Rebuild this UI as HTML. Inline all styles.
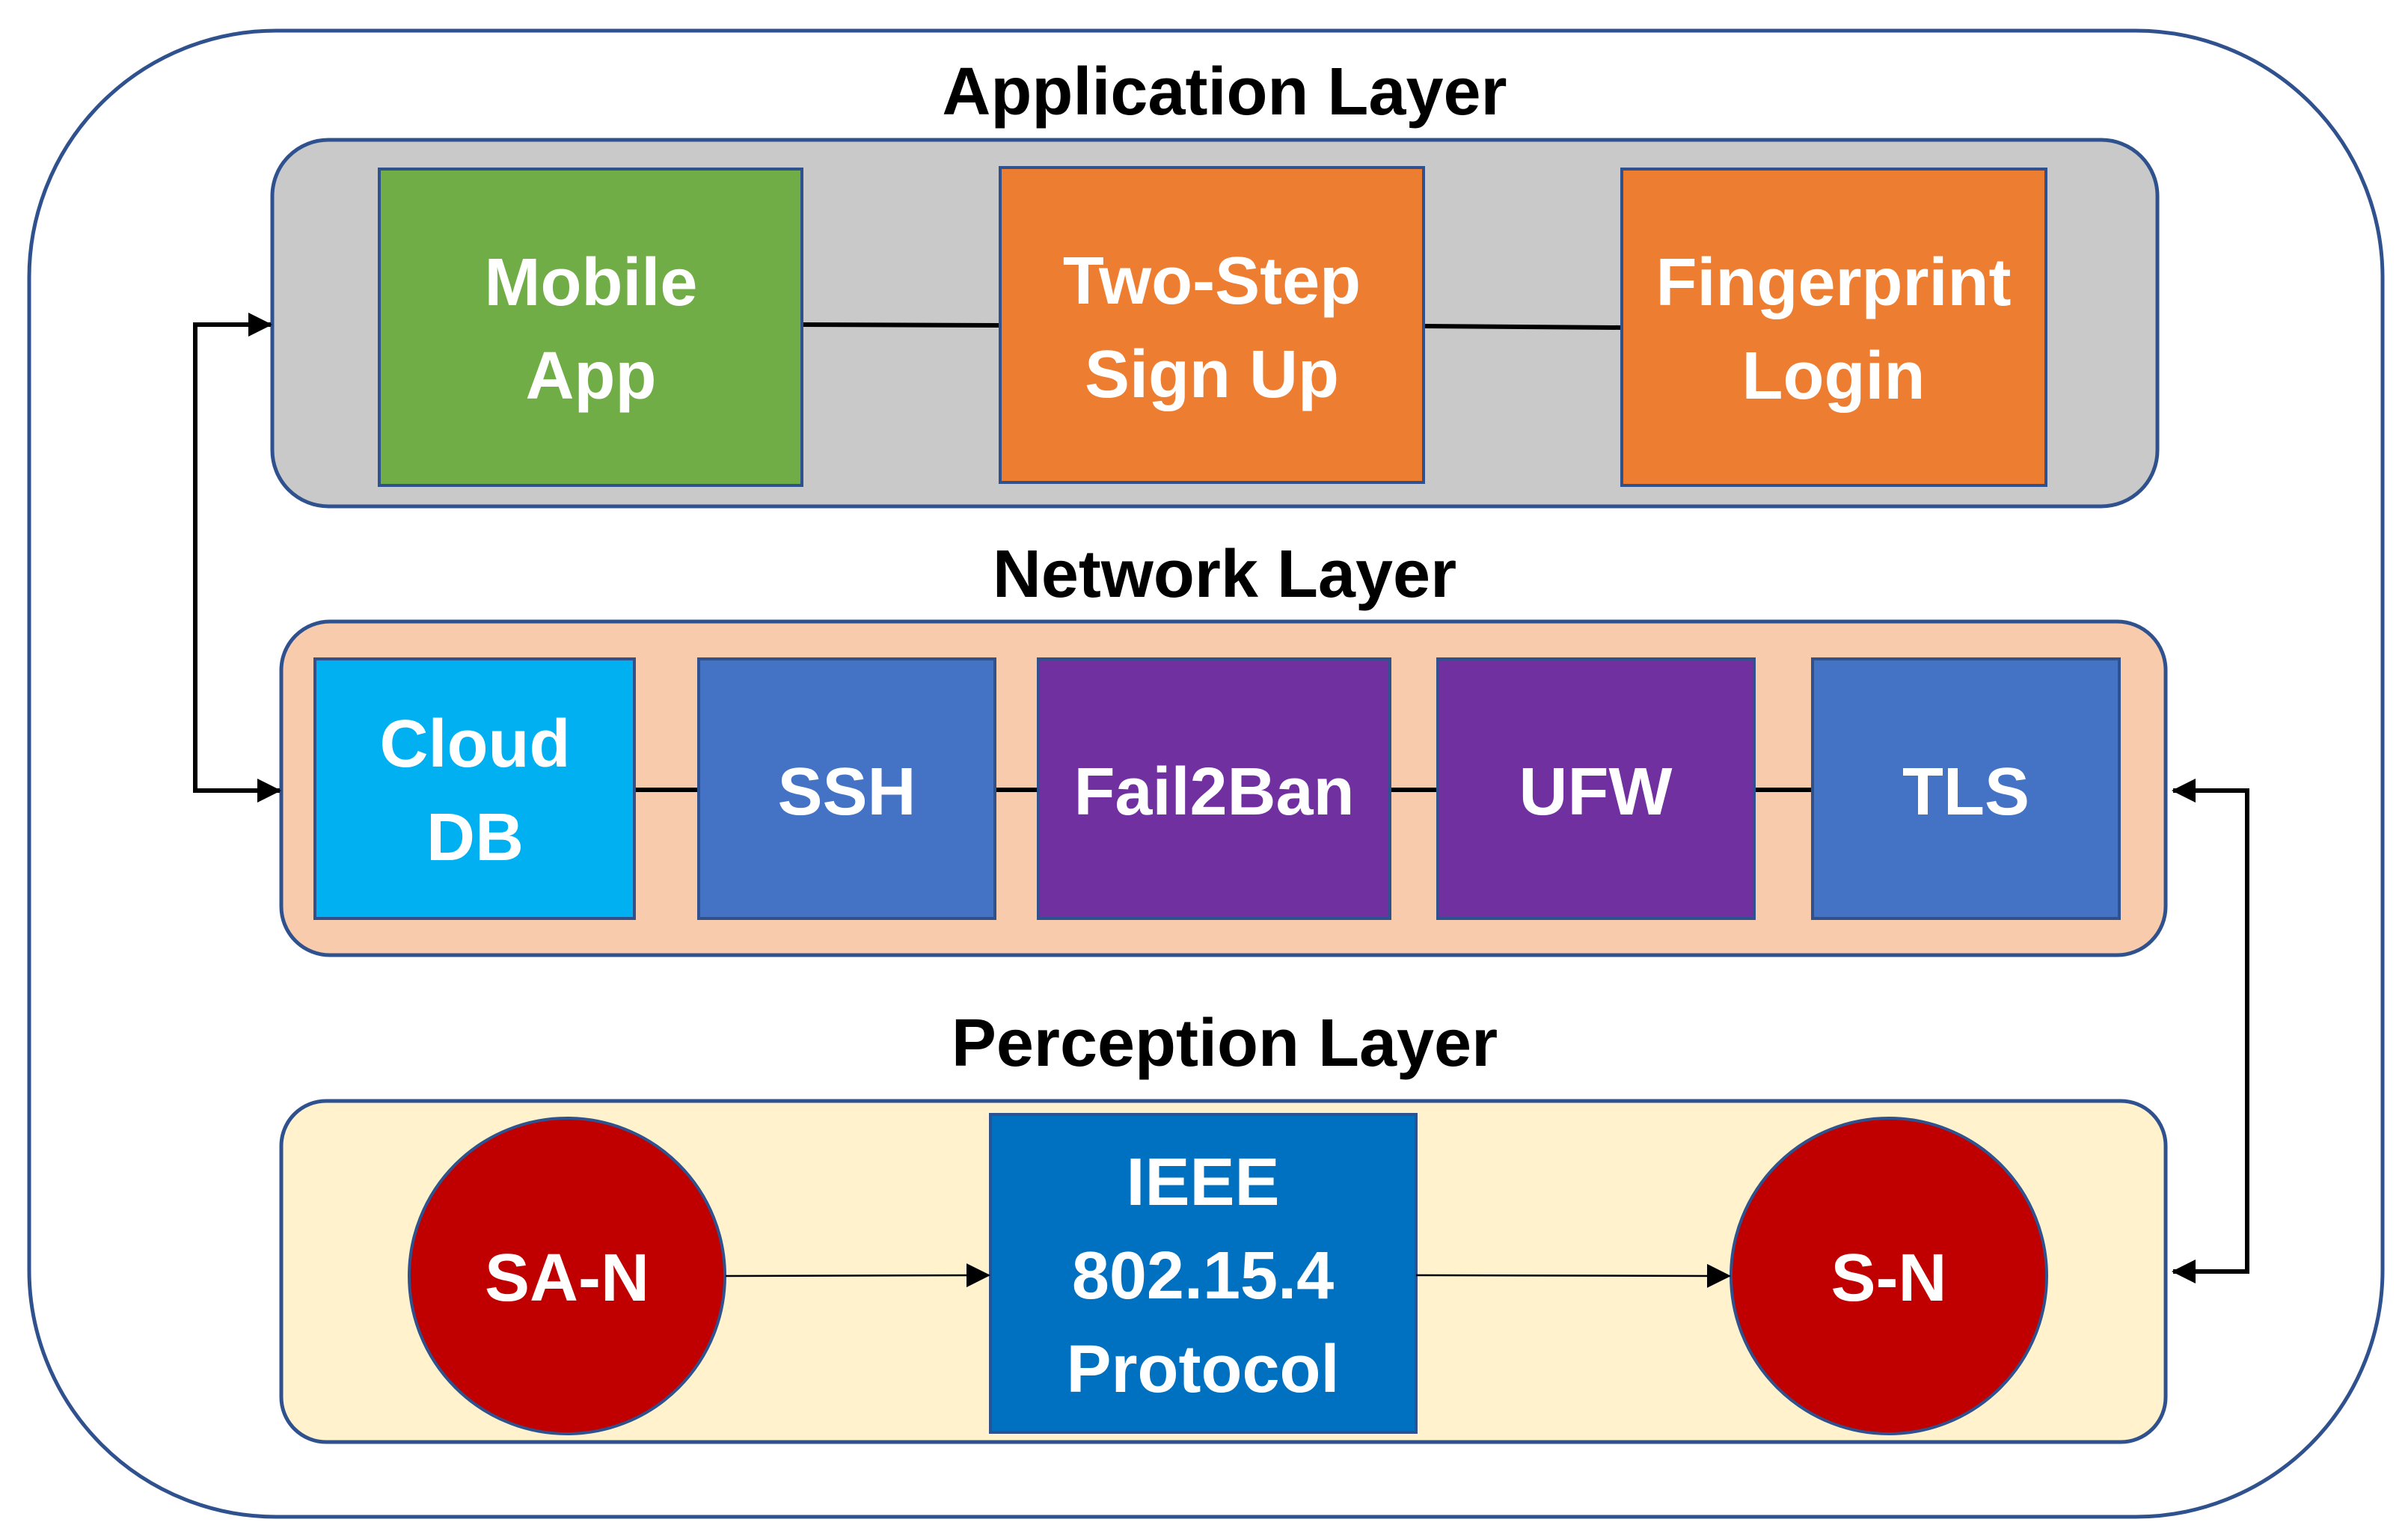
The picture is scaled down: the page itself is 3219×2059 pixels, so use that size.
<!DOCTYPE html>
<html><head><meta charset="utf-8"><style>
html,body{margin:0;padding:0;background:#fff;}
svg{display:block;}
text{font-family:"Liberation Sans",sans-serif;font-weight:bold;}
.w{fill:#fff;font-size:90px;text-anchor:middle;}
.t{fill:#000;font-size:90px;text-anchor:middle;}
</style></head><body>
<svg width="3219" height="2059" viewBox="0 0 3219 2059" xmlns="http://www.w3.org/2000/svg">
<defs>
<marker id="b" markerWidth="32" markerHeight="32" refX="30" refY="16" orient="auto" markerUnits="userSpaceOnUse">
<path d="M0,0 L32,16 L0,32 z" fill="#000"/></marker>
</defs>
<rect x="39" y="41" width="3146" height="1987" rx="330" ry="330" fill="#fff" stroke="#2F528F" stroke-width="5"/>

<text class="t" x="1637" y="153">Application Layer</text>
<rect x="364" y="187" width="2520" height="490" rx="75" fill="#C9C9C9" stroke="#2F528F" stroke-width="5"/>
<line x1="1072" y1="434" x2="1337" y2="435" stroke="#000" stroke-width="6"/>
<line x1="1903" y1="436" x2="2168" y2="438" stroke="#000" stroke-width="6"/>
<rect x="507" y="226" width="565" height="423" fill="#70AD47" stroke="#2F528F" stroke-width="4"/>
<text class="w" x="790" y="408">Mobile</text><text class="w" x="790" y="533">App</text>
<rect x="1337" y="224" width="566" height="421" fill="#ED7D31" stroke="#2F528F" stroke-width="4"/>
<text class="w" x="1620" y="406">Two-Step</text><text class="w" x="1620" y="531">Sign Up</text>
<rect x="2168" y="226" width="567" height="423" fill="#ED7D31" stroke="#2F528F" stroke-width="4"/>
<text class="w" x="2451" y="408">Fingerprint</text><text class="w" x="2451" y="533">Login</text>

<text class="t" x="1637" y="798">Network Layer</text>
<rect x="376" y="831" width="2519" height="446" rx="65" fill="#F8CBAD" stroke="#2F528F" stroke-width="5"/>
<line x1="848" y1="1056" x2="2423" y2="1056" stroke="#000" stroke-width="6"/>
<rect x="421" y="881" width="427" height="347" fill="#00B0F0" stroke="#2F528F" stroke-width="4"/>
<text class="w" x="635" y="1025">Cloud</text><text class="w" x="635" y="1150">DB</text>
<rect x="934" y="881" width="396" height="347" fill="#4472C4" stroke="#2F528F" stroke-width="4"/>
<text class="w" x="1132" y="1089">SSH</text>
<rect x="1388" y="881" width="470" height="347" fill="#7030A0" stroke="#2F528F" stroke-width="4"/>
<text class="w" x="1623" y="1089">Fail2Ban</text>
<rect x="1922" y="881" width="423" height="347" fill="#7030A0" stroke="#2F528F" stroke-width="4"/>
<text class="w" x="2133" y="1089">UFW</text>
<rect x="2423" y="881" width="410" height="347" fill="#4472C4" stroke="#2F528F" stroke-width="4"/>
<text class="w" x="2628" y="1089">TLS</text>

<text class="t" x="1637" y="1425">Perception Layer</text>
<rect x="376" y="1472" width="2519" height="456" rx="60" fill="#FFF2CC" stroke="#2F528F" stroke-width="5"/>
<circle cx="758" cy="1706" r="211" fill="#C00000" stroke="#2F528F" stroke-width="4"/>
<text class="w" x="758" y="1739">SA-N</text>
<rect x="1324" y="1490" width="569" height="425" fill="#0070C0" stroke="#2F528F" stroke-width="4"/>
<text class="w" x="1608" y="1611">IEEE</text><text class="w" x="1608" y="1736">802.15.4</text><text class="w" x="1608" y="1861">Protocol</text>
<circle cx="2525" cy="1706" r="211" fill="#C00000" stroke="#2F528F" stroke-width="4"/>
<text class="w" x="2525" y="1739">S-N</text>

<line x1="970" y1="1706" x2="1322" y2="1705" stroke="#000" stroke-width="2.5" marker-end="url(#b)"/>
<line x1="1893" y1="1705" x2="2312" y2="1706" stroke="#000" stroke-width="2.5" marker-end="url(#b)"/>

<polyline points="362,434 261,434 261,1057 374,1057" fill="none" stroke="#000" stroke-width="6" marker-end="url(#b)"/>
<line x1="300" y1="434" x2="362" y2="434" stroke="#000" stroke-width="6" marker-end="url(#b)"/>
<polyline points="2905,1057 3004,1057 3004,1700 2905,1700" fill="none" stroke="#000" stroke-width="6" marker-end="url(#b)"/>
<line x1="2960" y1="1057" x2="2905" y2="1057" stroke="#000" stroke-width="6" marker-end="url(#b)"/>
</svg>
</body></html>
